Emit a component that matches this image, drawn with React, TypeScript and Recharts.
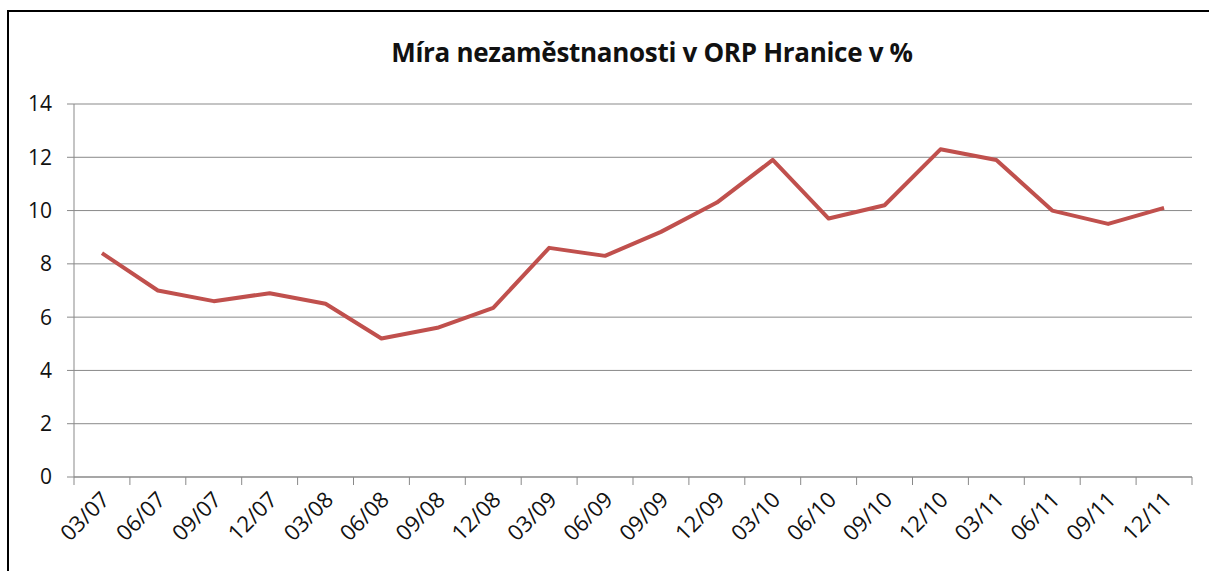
import React from "react"
import { ComposedChart, Line, XAxis, YAxis, CartesianGrid } from "recharts"

const quarters = [
  "03/07", "06/07", "09/07", "12/07",
  "03/08", "06/08", "09/08", "12/08",
  "03/09", "06/09", "09/09", "12/09",
  "03/10", "06/10", "09/10", "12/10",
  "03/11", "06/11", "09/11", "12/11",
]

const unemployment = [
  8.4, 7.0, 6.6, 6.9,
  6.5, 5.2, 5.6, 6.35,
  8.6, 8.3, 9.2, 10.3,
  11.9, 9.7, 10.2, 12.3,
  11.9, 10.0, 9.5, 10.1,
]

const yTicks = [0, 2, 4, 6, 8, 10, 12, 14]

const data = quarters.map((q, i) => ({ q, value: unemployment[i] }))

const gridColor = "#898989"
const font = "'Open Sans', sans-serif"

function QuarterTick(props: any) {
  const { x, y, payload, index, visibleTicksCount, width } = props
  const off = payload.offset || width / visibleTicksCount / 2
  const last = index === visibleTicksCount - 1
  const tx = x + 9
  const ty = y + 24
  return (
    <g>
      <line x1={x - off} x2={x - off} y1={y} y2={y + 8} stroke={gridColor} />
      {last && <line x1={x + off} x2={x + off} y1={y} y2={y + 8} stroke={gridColor} />}
      <text
        x={tx}
        y={ty}
        transform={`rotate(-45, ${tx}, ${ty})`}
        textAnchor="end"
        fontFamily={font}
        fontSize={22}
        fill="#111"
      >
        {payload.value}
      </text>
    </g>
  )
}

export default function App() {
  return (
    <div
      style={{
        position: "absolute",
        left: 0,
        top: 0,
        width: 1209,
        height: 571,
        overflow: "hidden",
        background: "#fff",
      }}
    >
      <div
        style={{
          position: "absolute",
          left: 7,
          top: 10,
          width: 1230,
          height: 600,
          border: "2.5px solid #000",
        }}
      />
      <ComposedChart
        width={1209}
        height={571}
        data={data}
        margin={{ top: 104, right: 17, bottom: 0, left: 0 }}
        style={{ position: "absolute", left: 0, top: 0 }}
      >
        <CartesianGrid vertical={false} stroke={gridColor} />
        <XAxis
          dataKey="q"
          scale="band"
          height={94}
          stroke={gridColor}
          tickLine={false}
          tickSize={0}
          tickMargin={0}
          interval={0}
          tick={<QuarterTick />}
        />
        <YAxis
          width={74}
          domain={[0, 14]}
          ticks={yTicks}
          stroke={gridColor}
          tickSize={7}
          tickMargin={15}
          tick={{ fontFamily: font, fontSize: 21, fill: "#111" }}
        />
        <Line
          type="linear"
          dataKey="value"
          stroke="#c0504d"
          strokeWidth={4}
          strokeLinejoin="round"
          dot={false}
          activeDot={false}
          isAnimationActive={false}
        />
      </ComposedChart>
      <div
        style={{
          position: "absolute",
          left: 652,
          top: 39,
          transform: "translateX(-50%)",
          whiteSpace: "nowrap",
          fontFamily: font,
          fontWeight: 700,
          fontSize: 26,
          lineHeight: "26px",
          letterSpacing: -0.3,
          color: "#111",
        }}
      >
        Míra nezaměstnanosti v ORP Hranice v %
      </div>
    </div>
  )
}
